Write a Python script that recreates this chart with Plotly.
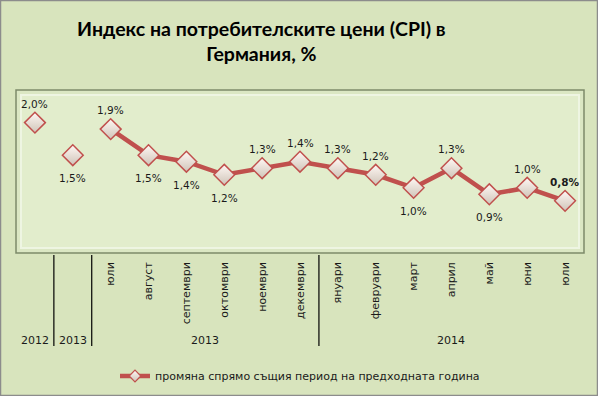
import plotly.graph_objects as go

# ---- data ----
idx_all = list(range(15))
month_labels = ["", "", "юли", "август", "септември", "октомври", "ноември", "декември",
                "януари", "февруари", "март", "април", "май", "юни", "юли"]
annual_idx = [0, 1]
annual_values = [2.0, 1.5]
annual_above = [True, False]
monthly_idx = list(range(2, 15))
monthly_values = [1.9, 1.5, 1.4, 1.2, 1.3, 1.4, 1.3, 1.2, 1.0, 1.3, 0.9, 1.0, 0.8]
monthly_above = [True, False, False, False, True, True, True, True, False, True,
                 False, True, True]
year_groups = [("2012", 0, 0), ("2013", 1, 1), ("2013", 2, 7), ("2014", 8, 14)]
dividers = [0.5, 1.5, 7.5]
series_name = "промяна спрямо същия период на предходната година"
title_text = "Индекс на потребителските цени (CPI) в<br>Германия, %"


def fmt(v):
    return f"{v:.1f}".replace(".", ",") + "%"


RED = "#c0504d"
FONT = "DejaVu Sans"
marker = dict(symbol="diamond", size=16, color="#fff8f4",
              gradient=dict(type="vertical", color="#cfc4b8"),
              line=dict(color="#c0504d", width=1.5))

fig = go.Figure()
fig.add_trace(go.Scatter(
    x=monthly_idx, y=monthly_values, mode="lines+markers",
    name=series_name, showlegend=False,
    line=dict(color=RED, width=4.5), marker=marker, cliponaxis=False,
))
fig.add_trace(go.Scatter(
    x=annual_idx, y=annual_values, mode="markers", showlegend=False,
    marker=marker, cliponaxis=False,
))
# legend entry (smaller symbol like the original)
fig.add_trace(go.Scatter(
    x=[None], y=[None], mode="lines+markers", name=series_name,
    line=dict(color=RED, width=4.5),
    marker=dict(symbol="diamond", size=9, color="#fff8f4",
                gradient=dict(type="vertical", color="#cfc4b8"),
                line=dict(color=RED, width=1.2)),
))

W, H = 598, 396
L, R, T, B = 16, 14, 90, 143
pw, ph = W - L - R, H - T - B


def px2x(px):
    return (px - L) / pw


def px2y(py):
    return (H - B - py) / ph


shapes = []
# outer border
shapes.append(dict(type="rect", xref="paper", yref="paper",
                   x0=px2x(0.5), x1=px2x(W - 0.5), y0=px2y(H - 0.5), y1=px2y(0.5),
                   line=dict(color="#8c8c8c", width=1.5), layer="below"))
# plot area bevel frame
shapes.append(dict(type="rect", xref="paper", yref="paper", x0=0, x1=1, y0=0, y1=1,
                   line=dict(color="#7d8a6a", width=1.5), layer="below"))
shapes.append(dict(type="rect", xref="paper", yref="paper",
                   x0=px2x(L + 5), x1=px2x(W - R - 5), y0=px2y(H - B - 5), y1=px2y(T + 5),
                   line=dict(color="#eef5e2", width=2), fillcolor="#e2edcc", layer="below"))
for d in dividers:
    shapes.append(dict(type="line", xref="x", yref="paper", x0=d, x1=d,
                       y0=px2y(255), y1=px2y(346), line=dict(color="#000000", width=1.2)))

annotations = []
# data labels
all_idx = annual_idx + monthly_idx
all_vals = annual_values + monthly_values
all_above = annual_above + monthly_above
for k, (xi, v, up) in enumerate(zip(all_idx, all_vals, all_above)):
    txt = fmt(v)
    if k == len(all_idx) - 1:
        txt = "<b>" + txt + "</b>"
    annotations.append(dict(x=xi, y=v, xref="x", yref="y", showarrow=False,
                            text=txt, xanchor="center", yanchor="middle",
                            yshift=(19 if up else -23),
                            font=dict(family=FONT, size=10.5, color="#1a1a1a")))
for lbl, a, b in year_groups:
    annotations.append(dict(x=(a + b) / 2, y=px2y(340), xref="x", yref="paper",
                            yanchor="middle", xanchor="center",
                            text=lbl, showarrow=False,
                            font=dict(family=FONT, size=11, color="#1a1a1a")))
# title placed like the original (left of centre)
annotations.append(dict(x=px2x(261), y=px2y(41), xref="paper", yref="paper",
                        xanchor="center", yanchor="middle", showarrow=False,
                        text="<b>" + title_text + "</b>",
                        font=dict(family="Lato", size=19.5, color="#000000")))

fig.update_layout(
    template="none",
    width=W, height=H,
    margin=dict(l=L, r=R, t=T, b=B, autoexpand=False),
    paper_bgcolor="#d8e4bd", plot_bgcolor="#dbe7c3",
    xaxis=dict(range=[-0.5, 14.5], tickmode="array", tickvals=idx_all, ticktext=month_labels,
               tickangle=-90, showgrid=False, zeroline=False, showline=False, ticks="",
               automargin=False, ticklabelstandoff=6,
               tickfont=dict(family=FONT, size=11, color="#1a1a1a"), fixedrange=True),
    yaxis=dict(range=[0, 2.5], visible=False, fixedrange=True, automargin=False),
    showlegend=True,
    legend=dict(orientation="h", x=0.5, xanchor="center", y=px2y(376), yanchor="middle",
                bgcolor="rgba(0,0,0,0)",
                font=dict(family=FONT, size=11, color="#1a1a1a")),
    shapes=shapes, annotations=annotations,
)

fig.write_html("out.html", config={"displayModeBar": False},
               post_script="document.body.style.margin='0';")
